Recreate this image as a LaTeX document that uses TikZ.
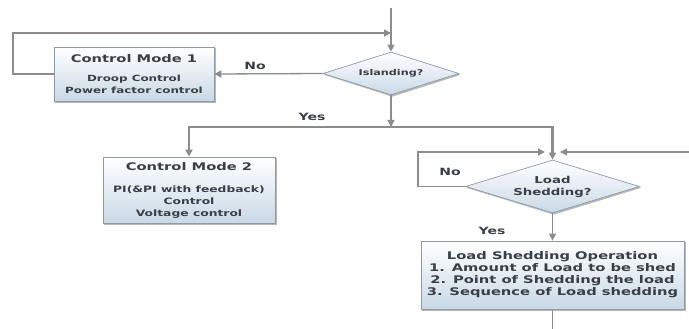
\documentclass[tikz,border=0pt]{standalone}
\usepackage{fontspec}
\newfontfamily\diafontwide{DejaVu Sans}[FakeStretch=1.4]
\usetikzlibrary{shapes.geometric,arrows.meta,calc}
\definecolor{linegray}{HTML}{8C8C8C}
\definecolor{boxborder}{HTML}{8E9AA6}
\definecolor{boxfill}{HTML}{C9D9E6}
\definecolor{txt}{HTML}{3A3F45}
\definecolor{shadowcol}{HTML}{B8B8B8}
\newcommand\dtitlefont{\fontsize{10.5}{12}\selectfont}
\newcommand\dbodyfontA{\fontsize{8.5}{11}\selectfont}
\newcommand\dbodyfontB{\fontsize{8.8}{10.8}\selectfont}
\newcommand\dlsofont{\fontsize{10.5}{13.7}\selectfont}
\newcommand\dlsfont{\fontsize{9.5}{13}\selectfont}
\pgfdeclarelayer{bg}
\pgfsetlayers{bg,main}
\tikzset{
  tipend/.style={-{Triangle[length=7pt,width=7pt]}},
  boxnode/.style={draw=boxborder, line width=0.7pt, top color=white, bottom color=boxfill,
    inner sep=0pt, align=center, text=txt, font=\diafontwide\bfseries},
  dianode/.style={diamond, draw=boxborder, line width=0.7pt, top color=white, bottom color=boxfill,
    inner sep=0pt, align=center, text=txt, font=\diafontwide\bfseries},
  shadowfill/.style={fill=shadowcol},
  thinline/.style={draw=linegray, line width=1.3pt},
  thickline/.style={draw=linegray, line width=2.6pt},
  lbl/.style={text=txt, font={\diafontwide\bfseries\fontsize{10}{12}\selectfont}, inner sep=0pt},
}
\begin{document}
\begin{tikzpicture}[x=1pt,y=-1pt]
\useasboundingbox (0,0) rectangle (689,329);
% nodes
\node[boxnode, minimum width=160pt, minimum height=54pt] (cm1) at (134,74)
  {\dtitlefont Control Mode 1\\[7pt]\dbodyfontA Droop Control\\\dbodyfontA Power factor control};
\node[dianode, minimum width=136pt, minimum height=43pt, aspect=3.16] (isl) at (391,73.5)
  {\fontsize{8}{10}\selectfont Islanding?};
\node[boxnode, minimum width=172pt, minimum height=66pt] (cm2) at (189,190)
  {\dtitlefont Control Mode 2\\[10pt]\dbodyfontB PI(\&PI with feedback)\\\dbodyfontB Control\\\dbodyfontB Voltage control};
\node[dianode, minimum width=174pt, minimum height=53pt, aspect=3.28] (ls) at (552.5,186.5)
  {\dlsfont Load\\\dlsfont Shedding?};
\node[boxnode, minimum width=263pt, minimum height=68pt] (lso) at (552.5,275)
  {\dlsofont Load Shedding Operation\\\dlsofont 1. Amount of Load to be shed\\\dlsofont 2. Point of Shedding the load\\\dlsofont 3. Sequence of Load shedding};
% shadows
\begin{pgfonlayer}{bg}
\foreach \nn in {cm1,cm2,lso}{
  \fill[shadowfill] ($(\nn.south west)+(1.5,1.5)$) rectangle ($(\nn.north east)+(1.5,1.5)$);
}
\foreach \nn in {isl,ls}{
  \fill[shadowfill] ($(\nn.north)+(1.3,1.3)$) -- ($(\nn.east)+(1.3,1.3)$) -- ($(\nn.south)+(1.3,1.3)$) -- ($(\nn.west)+(1.3,1.3)$) -- cycle;
}
\end{pgfonlayer}
% labels
\node[lbl] (no1) at (255,66) {No};
\node[lbl] (yes1) at (312,117) {Yes};
\node[lbl] (no2) at (450,172) {No};
\node[lbl] (yes2) at (492,231) {Yes};
% coordinates
\coordinate (top) at (391,8);
\coordinate (l1) at (13,33);
\coordinate (j1) at (391,33);
\coordinate (b0) at (391,127);
\coordinate (br) at (552.5,127);
\coordinate (ll) at (418,152);
\coordinate (lj) at (545,152);
\coordinate (rr) at (689,152);
\coordinate (rj) at (560,152);
\coordinate (bot) at (552.5,329);
% connectors
\draw[thinline, tipend] (top) -- (isl.north);
\draw[thinline, tipend] (cm1.west) -| (l1) -- (j1);
\draw[thinline, tipend] (isl.west) -- (cm1.east);
\draw[thinline, tipend] (isl.south) -- (b0);
\draw[thinline, tipend] (ls.west) -| (ll) -- (lj);
\draw[thinline, tipend] (rr) -- (rj);
\draw[thinline, tipend] (ls.south) -- (lso.north);
\draw[thinline] (lso.south) -- (bot);
\draw[thickline, {Triangle[length=7pt,width=7pt]}-{Triangle[length=7pt,width=7pt]}] (cm2.north) |- (br) -- (ls.north);
\end{tikzpicture}
\end{document}
